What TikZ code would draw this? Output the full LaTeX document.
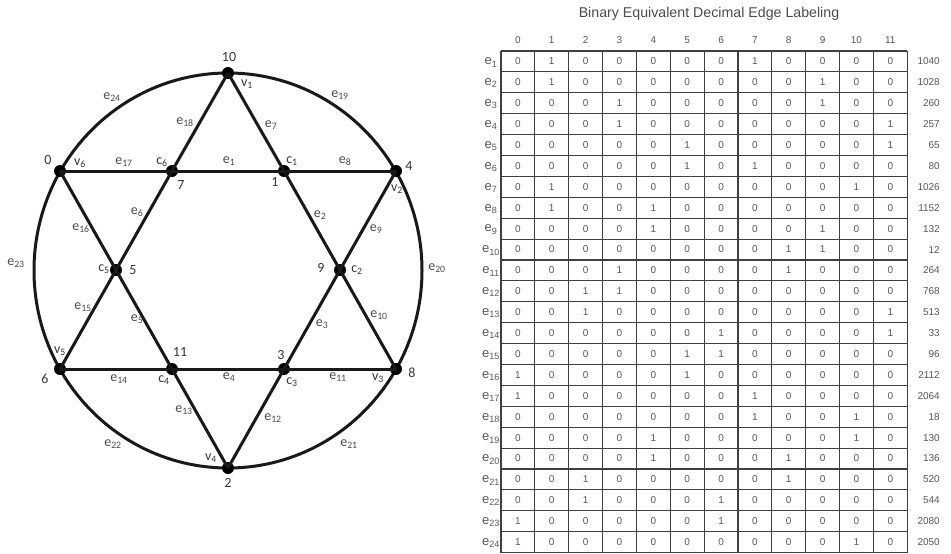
\documentclass[tikz,border=0pt]{standalone}
\usepackage{fontspec}
\setmainfont{Liberation Sans}
\newfontfamily\calfont{Carlito}
\newcommand\sbx[2]{#1\textsubscript{#2}}
\begin{document}
\begin{tikzpicture}[x=1pt,y=-1pt,
  vtx/.style={circle,fill=black,inner sep=0pt,minimum size=12pt},
  gedge/.style={line width=3pt,black!90},
  glab/.style={font=\calfont\fontsize{14}{14}\selectfont,text=black!78,inner sep=0pt},
  elab/.style={font=\calfont\fontsize{14}{14}\selectfont,text=black!70,inner sep=0pt},
  tline/.style={line width=1.1pt,black!75},
  cellt/.style={font=\fontsize{10}{10}\selectfont,text=black!65,inner sep=0pt},
  rowl/.style={font=\fontsize{13}{13}\selectfont,text=black!65,inner sep=0pt},
  decl/.style={font=\fontsize{10}{10}\selectfont,text=black!65,inner sep=0pt,anchor=east},
  ttl/.style={font=\fontsize{14.2}{15}\selectfont,text=black!70,inner sep=0pt}]
\useasboundingbox (0,0) rectangle (951,554);
\fill[white] (0,0) rectangle (951,554);
% ---------- graph ----------
\coordinate (O) at (228,270.5);
\draw[gedge] (O) ellipse [x radius=194, y radius=197.5];
\node[vtx] (v1) at (228,73) {};
\node[vtx] (v2) at (396,171) {};
\node[vtx] (v3) at (396,369) {};
\node[vtx] (v4) at (228,468) {};
\node[vtx] (v5) at (60,369) {};
\node[vtx] (v6) at (60,171) {};
\node[vtx] (c1) at (284,171) {};
\node[vtx] (c2) at (340,270) {};
\node[vtx] (c3) at (284,369) {};
\node[vtx] (c4) at (172,369) {};
\node[vtx] (c5) at (116,270) {};
\node[vtx] (c6) at (172,171) {};
\draw[gedge] (v1.center) -- (c1.center) -- (c2.center) -- (v3.center);
\draw[gedge] (v3.center) -- (c3.center) -- (c4.center) -- (v5.center);
\draw[gedge] (v5.center) -- (c5.center) -- (c6.center) -- (v1.center);
\draw[gedge] (v6.center) -- (c6.center) -- (c1.center) -- (v2.center);
\draw[gedge] (v2.center) -- (c2.center) -- (c3.center) -- (v4.center);
\draw[gedge] (v4.center) -- (c4.center) -- (c5.center) -- (v6.center);
% vertex labels
\node[glab] (n10) at (229,57) {10};
\node[glab] (lv1) at (247,84) {\sbx{v}{1}};
\node[glab] (n0) at (48,160) {0};
\node[glab] (lv6) at (80,163) {\sbx{v}{6}};
\node[glab] (n4) at (409,166) {4};
\node[glab] (lv2) at (397,189) {\sbx{v}{2}};
\node[glab] (n7) at (181,185) {7};
\node[glab] (n1) at (275,182) {1};
\node[glab] (lc6) at (162,162) {\sbx{c}{6}};
\node[glab] (lc1) at (292,161) {\sbx{c}{1}};
\node[glab] (n5) at (133,270) {5};
\node[glab] (lc5) at (104,269) {\sbx{c}{5}};
\node[glab] (n9) at (321,268) {9};
\node[glab] (lc2) at (357,270) {\sbx{c}{2}};
\node[glab] (lv5) at (60,351) {\sbx{v}{5}};
\node[glab] (n11) at (180,352) {11};
\node[glab] (n3) at (281,355) {3};
\node[glab] (n6) at (45,379) {6};
\node[glab] (lc4) at (164,380) {\sbx{c}{4}};
\node[glab] (lc3) at (292,382) {\sbx{c}{3}};
\node[glab] (lv3) at (378,378) {\sbx{v}{3}};
\node[glab] (n8) at (412,373) {8};
\node[glab] (lv4) at (211,458) {\sbx{v}{4}};
\node[glab] (n2) at (228,483) {2};
% edge labels
\node[elab] (le24) at (112,97) {\sbx{e}{24}};
\node[elab] (le19) at (340,95) {\sbx{e}{19}};
\node[elab] (le18) at (185,122) {\sbx{e}{18}};
\node[elab] (le7) at (271,125) {\sbx{e}{7}};
\node[elab] (le17) at (124,162) {\sbx{e}{17}};
\node[elab] (le1) at (229,161) {\sbx{e}{1}};
\node[elab] (le8) at (345,161) {\sbx{e}{8}};
\node[elab] (le6) at (137,212) {\sbx{e}{6}};
\node[elab] (le2) at (320,215) {\sbx{e}{2}};
\node[elab] (le9) at (376,229) {\sbx{e}{9}};
\node[elab] (le16) at (81,228) {\sbx{e}{16}};
\node[elab] (le23) at (16,263) {\sbx{e}{23}};
\node[elab] (le20) at (437,268) {\sbx{e}{20}};
\node[elab] (le15) at (83,307) {\sbx{e}{15}};
\node[elab] (le5) at (137,319) {\sbx{e}{5}};
\node[elab] (le3) at (322,324) {\sbx{e}{3}};
\node[elab] (le10) at (379,315) {\sbx{e}{10}};
\node[elab] (le14) at (119,379) {\sbx{e}{14}};
\node[elab] (le4) at (229,377) {\sbx{e}{4}};
\node[elab] (le11) at (338,377) {\sbx{e}{11}};
\node[elab] (le13) at (184,410) {\sbx{e}{13}};
\node[elab] (le12) at (273,418) {\sbx{e}{12}};
\node[elab] (le22) at (113,444) {\sbx{e}{22}};
\node[elab] (le21) at (349,444) {\sbx{e}{21}};
% ---------- table ----------
\node[ttl] (title) at (709,14) {Binary Equivalent Decimal Edge Labeling};
\foreach \k in {0,...,11} {
  \node[cellt] (h\k) at ({501+33.85*(\k+0.5)},40) {\k};
}
\foreach \k in {0,...,12} {
  \draw[tline] ({501+33.85*\k},51) -- ({501+33.85*\k},552.6);
}
\foreach \k in {0,...,24} {
  \draw[tline] (501,{51+20.9*\k}) -- (907.2,{51+20.9*\k});
}
\foreach \row [count=\i] in {
 {0,1,0,0,0,0,0,1,0,0,0,0,1040},
 {0,1,0,0,0,0,0,0,0,1,0,0,1028},
 {0,0,0,1,0,0,0,0,0,1,0,0,260},
 {0,0,0,1,0,0,0,0,0,0,0,1,257},
 {0,0,0,0,0,1,0,0,0,0,0,1,65},
 {0,0,0,0,0,1,0,1,0,0,0,0,80},
 {0,1,0,0,0,0,0,0,0,0,1,0,1026},
 {0,1,0,0,1,0,0,0,0,0,0,0,1152},
 {0,0,0,0,1,0,0,0,0,1,0,0,132},
 {0,0,0,0,0,0,0,0,1,1,0,0,12},
 {0,0,0,1,0,0,0,0,1,0,0,0,264},
 {0,0,1,1,0,0,0,0,0,0,0,0,768},
 {0,0,1,0,0,0,0,0,0,0,0,1,513},
 {0,0,0,0,0,0,1,0,0,0,0,1,33},
 {0,0,0,0,0,1,1,0,0,0,0,0,96},
 {1,0,0,0,0,1,0,0,0,0,0,0,2112},
 {1,0,0,0,0,0,0,1,0,0,0,0,2064},
 {0,0,0,0,0,0,0,1,0,0,1,0,18},
 {0,0,0,0,1,0,0,0,0,0,1,0,130},
 {0,0,0,0,1,0,0,0,1,0,0,0,136},
 {0,0,1,0,0,0,0,0,1,0,0,0,520},
 {0,0,1,0,0,0,1,0,0,0,0,0,544},
 {1,0,0,0,0,0,1,0,0,0,0,0,2080},
 {1,0,0,0,0,0,0,0,0,0,1,0,2050}} {
  \node[rowl] (r\i) at (491,{51+20.9*(\i-0.5)+1}) {\sbx{e}{\i}};
  \foreach \v [count=\j] in \row {
    \ifnum\j<13
      \node[cellt] (t\i-\j) at ({501+33.85*(\j-0.5)},{51+20.9*(\i-0.5)}) {\v};
    \else
      \node[decl] (d\i) at (940,{51+20.9*(\i-0.5)}) {\v};
    \fi
  }
}
\end{tikzpicture}
\end{document}
